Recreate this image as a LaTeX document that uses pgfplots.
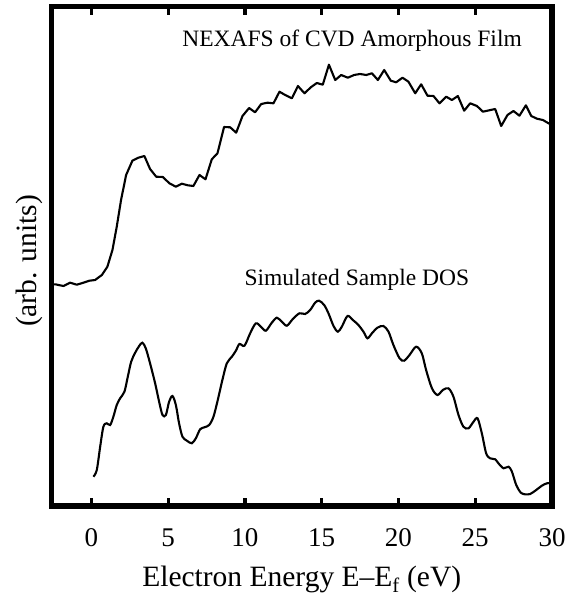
\documentclass[border=0pt]{standalone}
\usepackage{fontspec}
\setmainfont{Liberation Serif}
\usepackage{pgfplots}
\pgfplotsset{compat=1.18}

\begin{document}
\begin{tikzpicture}
\useasboundingbox (-51.5pt,-92pt) rectangle (521.5pt,506pt);
\begin{axis}[
    at={(0pt,0pt)}, anchor=south west,
    scale only axis,
    width=500.5pt, height=499.5pt,
    xmin=-2.6, xmax=30,
    ymin=0, ymax=499.5,
    xtick={0,5,10,15,20,25,30},
    ytick=\empty,
    major tick length=8.5pt,
    every tick/.style={black, line width=3.3pt},
    axis line style={line width=5.5pt, line cap=rect},
    /pgf/number format/assume math mode=true,
    xticklabel style={font=\fontsize{27}{32}\selectfont, anchor=base, yshift=-40.7pt},
    xlabel={Electron Energy E--E\textsubscript{f} (eV)},
    xlabel style={font=\fontsize{29.5}{35}\selectfont, at={(axis description cs:0.5,0)}, anchor=base, yshift=-80.7pt},
    ylabel={(arb. units)},
    ylabel style={font=\fontsize{29.5}{35}\selectfont, at={(axis description cs:-0.03,0.4905)}, anchor=base},
    clip=false,
]
% NEXAFS of CVD amorphous film
\addplot[black, line width=2.1pt, line join=round] coordinates {
(-2.56,221.5) (-2.36,221.7) (-1.82,220) (-1.39,223.3) (-0.95,221.3) (-0.52,223.3)
(-0.13,225.3) (0.24,226) (0.68,231) (1.04,239.3) (1.37,256) (1.65,279.3)
(1.93,306) (2.26,331) (2.67,345.3) (3.06,348.3) (3.45,350) (3.82,337)
(4.22,329.3) (4.65,329) (5.08,322.7) (5.50,319.3) (5.89,322.3) (6.28,320.7)
(6.64,320) (7.04,331) (7.43,326.7) (7.84,346.7) (8.21,352.7) (8.64,379)
(9.04,378.7) (9.43,373.3) (9.84,390) (10.27,398) (10.66,393.7) (11.06,402)
(11.47,403.3) (11.86,402.7) (12.25,414.3) (12.62,411) (13.06,407.7) (13.45,420)
(13.88,412.7) (14.29,418.7) (14.68,423) (15.07,421.3) (15.47,441.3) (15.88,426)
(16.27,431) (16.70,428.3) (17.11,431) (17.50,432) (17.90,431) (18.27,432.7)
(18.66,426) (19.07,436) (19.50,425.3) (19.85,423.7) (20.26,428.3) (20.65,424.3)
(21.09,412.7) (21.48,421.7) (21.89,410.3) (22.28,410) (22.67,402.7) (23.11,409.3)
(23.48,406) (23.87,410) (24.28,395.3) (24.67,402.7) (25.11,400) (25.50,394.3)
(25.91,395.7) (26.30,397) (26.69,380) (27.10,391) (27.49,395) (27.88,390.3)
(28.30,400.7) (28.65,390) (29.02,387.3) (29.41,386) (29.77,382.7) (30.0,381)
};
% simulated sample DOS
\addplot[black, line width=2.1pt, smooth] coordinates {
(0.13,29.3) (0.35,36) (0.57,59.3) (0.78,79.3) (1.00,82.7) (1.22,81)
(1.43,89.3) (1.65,101) (1.87,107.7) (2.15,114.3) (2.37,129.3) (2.59,144.3)
(2.85,153.3) (3.11,160) (3.32,163.3) (3.54,157.7) (3.82,142.7) (4.15,122.7)
(4.41,104.3) (4.63,91) (4.85,91) (5.06,104.3) (5.28,110) (5.50,101)
(5.71,82.7) (5.93,69.3) (6.22,65.3) (6.54,62.7) (6.80,67.7) (7.08,76.7)
(7.36,78.7) (7.67,81) (7.95,89.3) (8.23,106) (8.53,126) (8.82,142.7)
(9.15,149.3) (9.41,155.3) (9.64,162) (9.97,160.3) (10.34,172.7) (10.71,182.7)
(11.04,179.3) (11.36,175.3) (11.75,183.3) (12.08,188.3) (12.40,184.3) (12.73,180.3)
(13.12,187) (13.55,192.7) (13.92,192) (14.25,196) (14.57,203.3) (14.83,205.3)
(15.16,201) (15.44,192.7) (15.77,180) (16.05,174.3) (16.31,179.3) (16.68,190)
(17.03,186) (17.39,181) (17.72,174.3) (17.98,167.7) (18.27,172.7) (18.63,178.3)
(19.02,180) (19.35,174.3) (19.67,161) (20.07,147.7) (20.37,145.3) (20.72,151)
(21.15,159.3) (21.52,152.7) (21.80,136) (22.18,117.7) (22.54,111) (22.89,116)
(23.26,117.7) (23.58,109.3) (23.91,91) (24.23,79.3) (24.56,77.7) (24.89,84.3)
(25.15,87.7) (25.43,72.7) (25.71,52.7) (25.97,47.7) (26.30,46.7) (26.51,42.7)
(26.84,37.7) (27.17,39.3) (27.39,34.3) (27.67,21) (27.97,13.3) (28.25,11.7)
(28.58,12) (28.97,16) (29.34,20.3) (29.67,22.7) (30.0,23)
};
\node[anchor=base, font=\fontsize{23.5}{28}\selectfont] at (axis cs:16.98,459.3) {NEXAFS of CVD Amorphous Film};
\node[anchor=base, font=\fontsize{23.5}{28}\selectfont] at (axis cs:17.29,221) {Simulated Sample DOS};
\end{axis}
\end{tikzpicture}
\end{document}
